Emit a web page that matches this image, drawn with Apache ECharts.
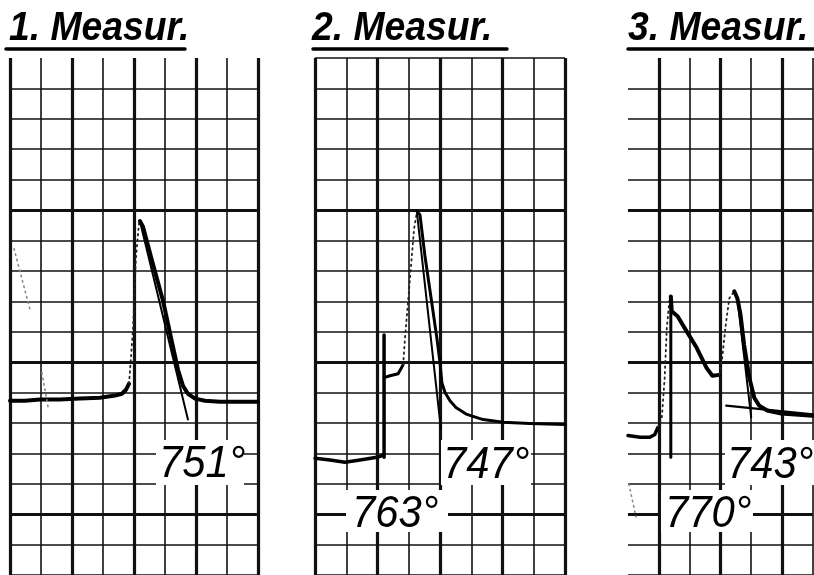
<!DOCTYPE html>
<html><head><meta charset="utf-8">
<script src="https://cdn.jsdelivr.net/npm/echarts@6/dist/echarts.min.js"></script>
<style>html,body{margin:0;padding:0;background:#fff}#c{width:814px;height:575px}</style>
</head><body><div id="c"></div>
<script>
// ---- data (grid divisions) ----
const titles = ['1. Measur.', '2. Measur.', '3. Measur.'];
const tempLabels = ['751°', '747°', '763°', '743°', '770°'];
const majorX12 = [0, 2, 4, 6, 8];
const majorX3 = [2, 4, 6];
const majorY = [1, 6, 11];

// Measurement 1
const m1Base = [[0,4.73],[0.48,4.73],[0.97,4.77],[1.61,4.77],[2.26,4.80],[2.90,4.83],[3.39,4.90],[3.61,4.96],[3.74,5.09],[3.84,5.29]];
const m1Rise = [[3.84,5.29],[3.97,7.12],[4.06,9.40],[4.16,10.55],[4.19,10.64]];
const m1Fall = [[4.19,10.64],[4.29,10.45],[4.58,9.34],[4.94,8.0],[5.23,6.63],[5.42,5.75],[5.58,5.22],[5.74,4.96],[5.97,4.80],[6.29,4.73],[6.77,4.70],[8.0,4.70]];
const m1Tangent = [[4.19,10.64],[5.74,4.11]];
const m1TrailA = [[0.13,9.73],[0.65,7.71]];
const m1TrailB = [[1.03,5.65],[1.23,4.51]];

// Measurement 2
const m2Base = [[0,2.84],[0.48,2.78],[0.96,2.71],[1.44,2.78],[1.98,2.87],[2.11,2.91],[2.21,2.97]];
const m2Step = [[2.21,2.87],[2.21,6.89]];
const m2Shoulder = [[2.21,5.49],[2.40,5.55],[2.66,5.62],[2.82,5.91]];
const m2Rise = [[2.82,5.91],[2.88,6.79],[3.04,8.75],[3.17,10.38],[3.26,10.94]];
const m2Fall = [[3.26,10.97],[3.36,10.84],[3.52,9.47],[3.74,7.93],[3.90,6.79],[4.0,5.98],[4.06,5.32],[4.16,5.0],[4.32,4.73],[4.51,4.51],[4.86,4.28],[5.38,4.11],[6.02,4.02],[6.88,3.98],[8.0,3.95]];
const m2Tangent = [[3.26,10.94],[4.03,3.79]];

// Measurement 3
const m3Base = [[1.0,3.59],[1.39,3.53],[1.71,3.53],[1.87,3.62],[1.97,3.85]];
const m3Rise1 = [[1.97,3.85],[2.10,4.18],[2.19,5.49],[2.26,7.12],[2.35,8.10],[2.39,8.16]];
const m3Fall1 = [[2.39,8.16],[2.42,7.67],[2.61,7.51],[2.90,7.02],[3.23,6.47],[3.55,5.81],[3.74,5.55],[3.97,5.58]];
const m3Rise2 = [[3.97,5.58],[4.06,6.14],[4.16,7.12],[4.29,8.10],[4.45,8.33]];
const m3Fall2 = [[4.45,8.33],[4.55,8.10],[4.65,7.58],[4.77,6.56],[4.94,5.49],[5.10,4.83],[5.26,4.57],[5.52,4.41],[5.97,4.31],[7.0,4.24]];
const m3Marker = [[2.39,8.16],[2.39,2.87]];
const m3Tangent = [[4.55,8.10],[5.0,4.18]];
const m3Baseline = [[4.19,4.57],[7.0,4.28]];
const m3Trail = [[1.03,1.99],[1.26,0.91]];

// ---- chart ----
const chart = echarts.init(document.getElementById('c'), null, {renderer: 'canvas'});
const INK = '#111';
const thin = {show: true, lineStyle: {color: INK, width: 1.6, type: 'solid'}};
const DOTS = [1.5, 4];

function xAx(i, min, max, showMin) {
  return {type: 'value', gridIndex: i, min: min, max: max, interval: 1,
    axisLine: {show: false}, axisTick: {show: false}, axisLabel: {show: false},
    splitLine: Object.assign({}, thin, {showMinLine: showMin, showMaxLine: true})};
}
function yAx(i, showTop) {
  return {type: 'value', gridIndex: i, min: -1, max: 16, interval: 1,
    axisLine: {show: false}, axisTick: {show: false}, axisLabel: {show: false},
    splitLine: Object.assign({}, thin, {showMinLine: true, showMaxLine: showTop})};
}
function ser(i, data, w, type, color, extra) {
  return Object.assign({type: 'line', xAxisIndex: i, yAxisIndex: i, data: data,
    symbol: 'none', silent: true, animation: false, z: 5,
    lineStyle: {color: color || '#000', width: w, type: type || 'solid', cap: 'round', join: 'round'}}, extra || {});
}
function majors(xs, ys) {
  return {markLine: {silent: true, symbol: ['none', 'none'], label: {show: false}, animation: false,
    lineStyle: {color: INK, width: 3.2, type: 'solid'},
    emphasis: {disabled: true},
    data: xs.map(v => ({xAxis: v})).concat(ys.map(v => ({yAxis: v})))}};
}

const TF = 'Liberation Sans, Arial, sans-serif';
function title(x, t) {
  return {type: 'text', x: x, y: 29, scaleX: 0.91, z: 50,
    style: {text: t, fontSize: 41, fontStyle: 'italic', fontWeight: 'bold', fontFamily: TF, fill: '#000',
      verticalAlign: 'middle', align: 'left'}};
}
function uline(x1, x2) {
  return {type: 'line', z: 50, shape: {x1: x1, y1: 49, x2: x2, y2: 49},
    style: {stroke: '#000', lineWidth: 3.5, lineCap: 'round'}};
}
function box(x, y, w, h) {
  return {type: 'rect', z: 40, shape: {x: x, y: y, width: w, height: h}, style: {fill: '#fff'}};
}
function lab(x, y, t) {
  return {type: 'text', z: 50, x: x, y: y, scaleX: 0.93,
    style: {text: t, fontSize: 45, fontStyle: 'italic', fontFamily: TF, fill: '#000', verticalAlign: 'middle', align: 'left'}};
}

chart.setOption({
  backgroundColor: '#fff',
  animation: false,
  grid: [
    {left: 10, width: 248, top: 58, bottom: -3.6},
    {left: 315, width: 250, top: 58, bottom: -3.6},
    {left: 628, width: 184.8, top: 58, bottom: -3.6}
  ],
  xAxis: [xAx(0, 0, 8, true), xAx(1, 0, 8, true), xAx(2, 1, 7, false)],
  yAxis: [yAx(0, false), yAx(1, true), yAx(2, false)],
  series: [
    ser(0, m1Base, 4, 'solid', '#000', majors(majorX12, majorY)),
    ser(0, m1Rise, 1.8, DOTS, '#222'),
    ser(0, m1Fall, 4),
    ser(0, m1Tangent, 2),
    ser(0, m1TrailA, 1.6, DOTS, '#888'),
    ser(0, m1TrailB, 1.6, DOTS, '#888'),

    ser(1, m2Base, 3.5, 'solid', '#000', majors(majorX12, majorY)),
    ser(1, m2Step, 3.5),
    ser(1, m2Shoulder, 3),
    ser(1, m2Rise, 1.8, DOTS, '#222'),
    ser(1, m2Fall, 3),
    ser(1, m2Tangent, 2),

    ser(2, m3Base, 3.5, 'solid', '#000', majors(majorX3, majorY)),
    ser(2, m3Rise1, 1.8, DOTS, '#222'),
    ser(2, m3Fall1, 4),
    ser(2, m3Rise2, 1.8, DOTS, '#222'),
    ser(2, m3Fall2, 4),
    ser(2, m3Marker, 3),
    ser(2, m3Tangent, 2),
    ser(2, m3Baseline, 2.2),
    ser(2, m3Trail, 1.6, DOTS, '#888')
  ],
  graphic: {elements: [
    title(9, titles[0]), uline(6, 185),
    title(312, titles[1]), uline(313, 507),
    title(628, titles[2]), uline(628, 814),
    box(156, 440, 88, 45), lab(159, 464, tempLabels[0]),
    box(441, 440, 90, 45), lab(443, 465, tempLabels[1]),
    box(346, 490, 102, 42), lab(352, 514, tempLabels[2]),
    box(725, 440, 89, 45), lab(727, 465, tempLabels[3]),
    box(661, 490, 92, 42), lab(665, 514, tempLabels[4])
  ]}
});
</script></body></html>
